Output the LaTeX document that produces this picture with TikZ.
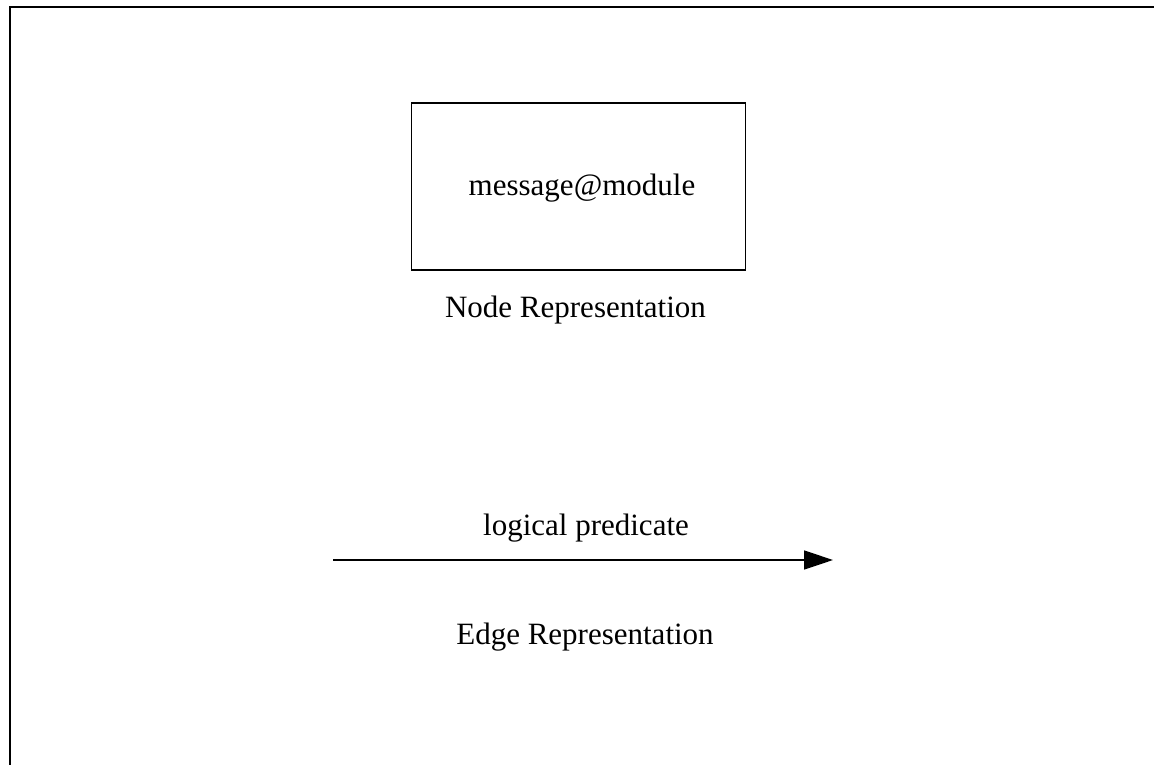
\documentclass[tikz,border=0pt]{standalone}
\usepackage{fontspec}
\setmainfont{Liberation Serif}
\usetikzlibrary{arrows.meta}
\begin{document}
\begin{tikzpicture}[x=1pt,y=-1pt,
  lbl/.style={font=\fontsize{31}{36}\selectfont, inner sep=0pt, anchor=base},
  nodebox/.style={draw, line width=1.4pt, minimum width=334pt, minimum height=167pt, inner sep=0pt},
  edgearrow/.style={line width=1.4pt, -{Triangle[length=29pt,width=19pt]}}]
\useasboundingbox (0,0) rectangle (1154,765);
\coordinate (fb) at (10,766);
\coordinate (fc) at (10,7);
\coordinate (fr) at (1155,7);
\draw[line width=2.6pt] (fb) -- (fc) -- (fr);
\node[nodebox] (box) at (578.5,186.5) {};
\node[lbl] (msg) at (582,195) {message@module};
\node[lbl] (nrep) at (575.5,317) {Node Representation};
\node[lbl] (lp) at (586,535) {logical predicate};
\coordinate (as) at (333,560);
\coordinate (ae) at (833,560);
\draw[edgearrow] (as) -- (ae);
\node[lbl] (erep) at (585,644) {Edge Representation};
\end{tikzpicture}
\end{document}
